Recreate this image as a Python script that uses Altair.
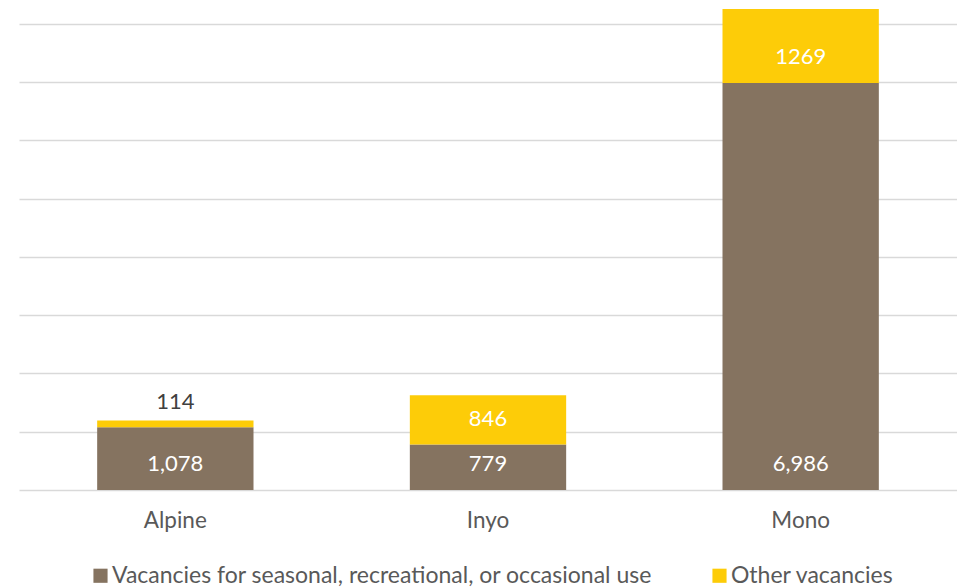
import altair as alt
import pandas as pd

counties = ["Alpine", "Inyo", "Mono"]
seasonal = [1078, 779, 6986]
other = [114, 846, 1269]
series_names = ["Vacancies for seasonal, recreational, or occasional use", "Other vacancies"]
colors = ["#857360", "#FDCC08"]
grid_values = [0, 1000, 2000, 3000, 4000, 5000, 6000, 7000, 8000]

rows = []
for i, c in enumerate(counties):
    rows.append({"county": c, "series": series_names[0], "value": seasonal[i], "ord": 0})
    rows.append({"county": c, "series": series_names[1], "value": other[i], "ord": 1})
df = pd.DataFrame(rows)

FONT = "Lato"
x_enc = alt.X("county:N", sort=counties, title=None,
              scale=alt.Scale(paddingInner=0.5, paddingOuter=0.25),
              axis=alt.Axis(labelAngle=0, labelFontSize=22.5, labelColor="#595959",
                            labelFont=FONT, ticks=False, domain=False, labelPadding=19))
y_scale = alt.Scale(domain=[0, 8255], nice=False)

base = alt.Chart(df).transform_stack(
    stack="value", groupby=["county"], as_=["start", "end"],
    sort=[alt.SortField("ord", order="ascending")]
).transform_calculate(
    label="datum.ord == 0 ? format(datum.value, ',') : format(datum.value, 'd')"
)

bars = base.mark_bar().encode(
    x=x_enc,
    y=alt.Y("start:Q", scale=y_scale, title=None,
            axis=alt.Axis(values=grid_values, labels=False, ticks=False, domain=False,
                          grid=True, gridColor="#d9d9d9", gridWidth=1.5)),
    y2="end:Q",
    color=alt.Color("series:N", scale=alt.Scale(domain=series_names, range=colors),
                    legend=alt.Legend(title=None, orient="none", direction="horizontal",
                                      legendX=70, legendY=555, symbolType="square",
                                      symbolSize=200, symbolStrokeWidth=0,
                                      labelFontSize=23, labelFont=FONT, labelColor="#595959",
                                      columnPadding=55, labelLimit=700, labelOffset=0)),
)

inside = base.transform_filter("datum.value >= 300").mark_text(
    color="white", fontSize=22, font=FONT, baseline="middle", dy=-26
).encode(x=alt.X("county:N", sort=counties),
         y=alt.Y("start:Q", scale=y_scale), text="label:N")

outside = base.transform_filter("datum.value < 300").mark_text(
    color="#404040", fontSize=22, font=FONT, baseline="middle", dy=-19
).encode(x=alt.X("county:N", sort=counties),
         y=alt.Y("end:Q", scale=y_scale), text="label:N")

chart = alt.layer(bars, inside, outside).properties(
    width=938, height=481,
    autosize=alt.AutoSizeParams(type="none"),
    padding={"left": 11, "top": 1, "right": 0, "bottom": 98},
    background="white",
).configure_view(stroke=None)

chart.save("out.html", embed_options={"renderer": "svg", "actions": False})
